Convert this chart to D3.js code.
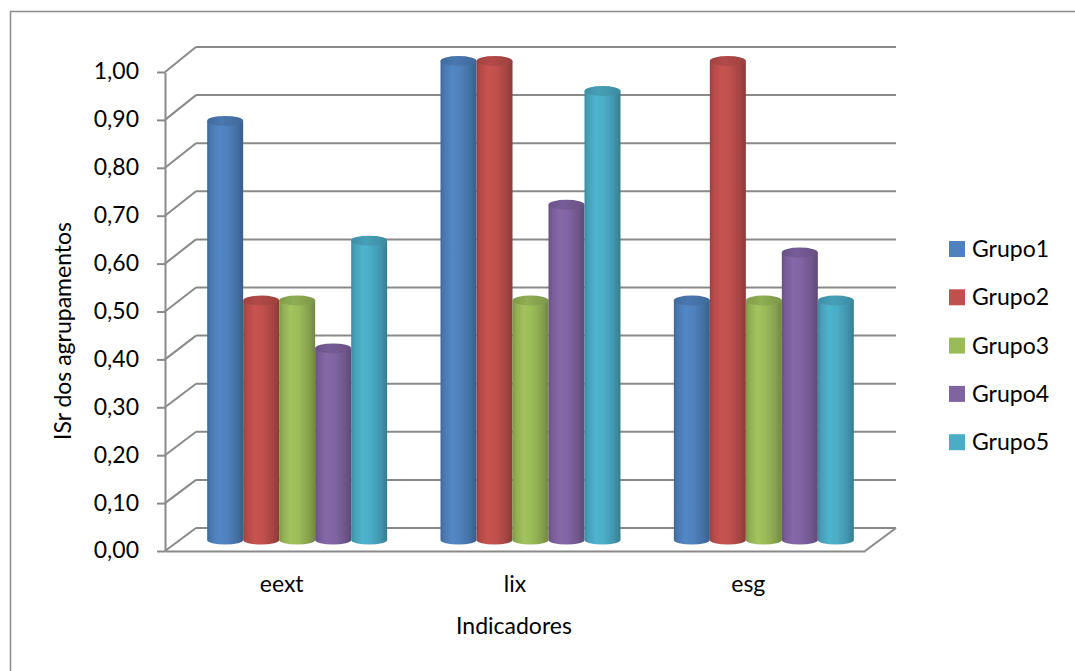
<!DOCTYPE html>
<html>
<head>
<meta charset="utf-8">
<script src="https://cdn.jsdelivr.net/npm/d3@7"></script>
<style>
  html, body { margin: 0; padding: 0; background: #fff; }
  svg { display: block; }
  text { font-family: Lato, "Open Sans", sans-serif; fill: #000; }
</style>
</head>
<body>
<svg id="chart" width="1075" height="671"></svg>
<script>
// Indicator categories and the ISr value of each group
const categories = ["eext", "lix", "esg"];
const seriesNames = ["Grupo1", "Grupo2", "Grupo3", "Grupo4", "Grupo5"];
const grupo1 = [0.875, 1.00, 0.50];
const grupo2 = [0.50, 1.00, 1.00];
const grupo3 = [0.50, 0.50, 0.50];
const grupo4 = [0.40, 0.70, 0.60];
const grupo5 = [0.625, 0.9375, 0.50];
const seriesValues = [grupo1, grupo2, grupo3, grupo4, grupo5];
const seriesColors = ["#4F81BD", "#C0504D", "#9BBB59", "#8064A2", "#4BACC6"];
const yTickValues = [0, 0.1, 0.2, 0.3, 0.4, 0.5, 0.6, 0.7, 0.8, 0.9, 1.0];
const yTitle = "ISr dos agrupamentos";
const xTitle = "Indicadores";

const svg = d3.select("#chart");
const fontSize = 23;

// 3D box geometry: front plane, back wall offset by depth
const frontLeft = 165, frontRight = 865;
const depthX = 31, depthY = -23;

const yFront = d3.scaleLinear().domain([0, 1]).range([551, 72]);
const yBack = d3.scaleLinear().domain([0, 1]).range([551 + depthY, 72 + depthY - 2]);
const yBar = d3.scaleLinear().domain([0, 1]).range([540, 61]);

const xFront = d3.scaleBand().domain(categories).range([frontLeft, frontRight]);
const xCat = d3.scaleBand().domain(categories)
  .range([frontLeft + depthX / 2, frontRight + depthX / 2])
  .paddingInner(0.2286).paddingOuter(0.1143);
const xSeries = d3.scaleBand().domain(seriesNames).range([0, xCat.bandwidth()]);

// chart area border
svg.append("rect")
  .attr("x", 10.5).attr("y", 11.5)
  .attr("width", 1100).attr("height", 700)
  .attr("fill", "none").attr("stroke", "#8c8c8c").attr("stroke-width", 1.5);

const gridColor = "#8a8a8a";
const grid = svg.append("g").attr("stroke", gridColor).attr("stroke-width", 2).attr("fill", "none");

// back wall gridlines
grid.selectAll("line.back").data(yTickValues).join("line")
  .attr("class", "back")
  .attr("x1", frontLeft + depthX).attr("x2", frontRight + depthX)
  .attr("y1", d => yBack(d)).attr("y2", d => yBack(d));

// side wall gridlines
grid.selectAll("line.side").data(yTickValues).join("line")
  .attr("class", "side")
  .attr("x1", frontLeft).attr("x2", frontLeft + depthX)
  .attr("y1", d => yFront(d)).attr("y2", d => yBack(d));

// floor right edge
grid.append("line")
  .attr("x1", frontRight).attr("y1", yFront(0))
  .attr("x2", frontRight + depthX).attr("y2", yBack(0));

// cylinder gradients
const defs = svg.append("defs");
seriesColors.forEach((c, i) => {
  const base = d3.color(c);
  const g = defs.append("linearGradient").attr("id", "body" + i)
    .attr("x1", "0%").attr("x2", "100%").attr("y1", "0%").attr("y2", "0%");
  [[0, base.darker(0.6)], [0.1, base.darker(0.2)], [0.32, base.brighter(0.12)],
   [0.55, base], [0.82, base.darker(0.4)], [1, base.darker(0.9)]]
    .forEach(([o, col]) => g.append("stop").attr("offset", o).attr("stop-color", col.formatHex()));
  const t = defs.append("linearGradient").attr("id", "top" + i)
    .attr("x1", "0%").attr("x2", "100%").attr("y1", "0%").attr("y2", "0%");
  [[0, base.darker(0.55)], [0.4, base.darker(0.2)], [1, base.darker(0.6)]]
    .forEach(([o, col]) => t.append("stop").attr("offset", o).attr("stop-color", col.formatHex()));
});

// cylinders
const ryTop = 5, ryBot = 4.5;
const bars = [];
categories.forEach((cat, ci) => {
  seriesNames.forEach((s, si) => {
    bars.push({ cat, s, si, v: seriesValues[si][ci] });
  });
});

const barG = svg.append("g");
const cyl = barG.selectAll("g.cyl").data(bars).join("g").attr("class", "cyl");
cyl.append("path")
  .attr("fill", d => `url(#body${d.si})`)
  .attr("d", d => {
    const x0 = xCat(d.cat) + xSeries(d.s);
    const w = xSeries.bandwidth();
    const r = w / 2;
    const yt = yBar(d.v), yb = yBar(0);
    return `M${x0},${yt} L${x0},${yb} A${r},${ryBot} 0 0 0 ${x0 + w},${yb} L${x0 + w},${yt} Z`;
  });
cyl.append("ellipse")
  .attr("fill", d => `url(#top${d.si})`)
  .attr("cx", d => xCat(d.cat) + xSeries(d.s) + xSeries.bandwidth() / 2)
  .attr("cy", d => yBar(d.v))
  .attr("rx", xSeries.bandwidth() / 2)
  .attr("ry", ryTop);

// value axis on the front plane
const fmt = d3.format(".2f");
const yAxis = d3.axisLeft(yFront)
  .tickValues(yTickValues)
  .tickFormat(d => fmt(d).replace(".", ","))
  .tickSize(8).tickSizeOuter(0).tickPadding(18);
const yAxisG = svg.append("g").attr("transform", `translate(${frontLeft},0)`).call(yAxis);
yAxisG.select(".domain").attr("stroke", gridColor).attr("stroke-width", 2);
yAxisG.selectAll(".tick line").attr("stroke", gridColor).attr("stroke-width", 2);
yAxisG.selectAll(".tick text")
  .style("font-family", "Lato, sans-serif").style("font-size", fontSize + "px")
  .attr("fill", "#000").attr("dy", "0.3em");

// category axis along the front floor edge
const xAxis = d3.axisBottom(xFront).tickSize(0).tickPadding(25);
const xAxisG = svg.append("g").attr("transform", `translate(0,${yFront(0)})`).call(xAxis);
xAxisG.select(".domain").attr("stroke", gridColor).attr("stroke-width", 2);
xAxisG.selectAll(".tick text")
  .style("font-family", "Lato, sans-serif").style("font-size", fontSize + "px")
  .attr("fill", "#000");

// axis titles
svg.append("text")
  .attr("x", 514).attr("y", 634)
  .attr("text-anchor", "middle")
  .style("font-size", fontSize + "px")
  .text(xTitle);

svg.append("text")
  .attr("transform", "translate(71,331) rotate(-90)")
  .attr("text-anchor", "middle")
  .style("font-size", fontSize + "px")
  .text(yTitle);

// legend
const legend = svg.append("g").attr("transform", "translate(949,241)");
const item = legend.selectAll("g").data(seriesNames).join("g")
  .attr("transform", (d, i) => `translate(0,${i * 48.3})`);
item.append("rect").attr("width", 16).attr("height", 16)
  .attr("fill", (d, i) => seriesColors[i]);
item.append("text").attr("x", 23).attr("y", 16)
  .style("font-size", fontSize + "px")
  .text(d => d);
</script>
</body>
</html>
